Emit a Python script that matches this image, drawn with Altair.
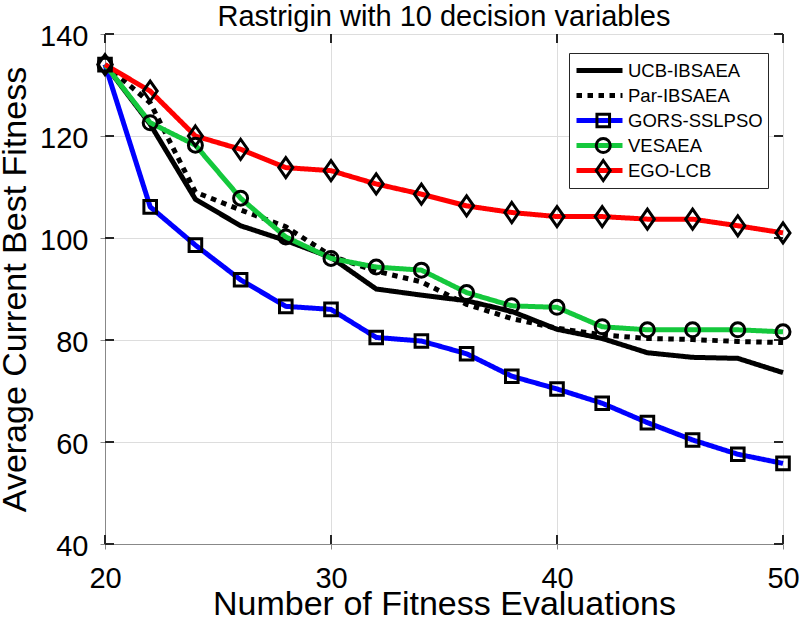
import altair as alt
import pandas as pd

# Evaluation counts on the x axis
evals = [20, 22, 24, 26, 28, 30, 32, 34, 36, 38, 40, 42, 44, 46, 48, 50]

# Average current best fitness per algorithm
ucb_ibsaea = [134, 122.3, 107.6, 102.4, 99.5, 96.2, 90.0, 88.8, 87.7, 85.6, 82.1, 80.3, 77.5, 76.6, 76.4, 73.6]
par_ibsaea = [134, 126.5, 109.0, 105.5, 102.2, 96.5, 93.5, 91.4, 87.0, 84.2, 82.3, 81.0, 80.3, 80.1, 79.7, 79.5]
gors_sslpso = [134, 106.1, 98.6, 91.8, 86.6, 86.0, 80.5, 79.8, 77.3, 72.9, 70.4, 67.6, 63.8, 60.4, 57.6, 55.8]
vesaea = [134, 122.6, 118.2, 107.8, 100.2, 96.0, 94.3, 93.7, 89.3, 86.7, 86.4, 82.6, 82.0, 82.0, 82.0, 81.6]
ego_lcb = [134, 128.8, 120.0, 117.4, 113.8, 113.2, 110.6, 108.6, 106.3, 105.0, 104.2, 104.2, 103.7, 103.7, 102.4, 101.0]

series_names = ["UCB-IBSAEA", "Par-IBSAEA", "GORS-SSLPSO", "VESAEA", "EGO-LCB"]
series_values = [ucb_ibsaea, par_ibsaea, gors_sslpso, vesaea, ego_lcb]
series_markers = ["none_a", "none_b", "square", "circle", "diamond"]

x_ticks = [20, 30, 40, 50]
y_ticks = [40, 60, 80, 100, 120, 140]

# styling
line_colors = ["#000000", "#000000", "#0000ff", "#14c83c", "#ff0000"]
line_dashes = [[1, 0], [5.5, 5.5], [1, 0], [1, 0], [1, 0]]
line_widths = [5, 5, 3.5, 3.5, 3.5]
marker_paths = ["M0,0", "M0,0",
                "M-0.9,-0.9H0.9V0.9H-0.9Z",
                "circle",
                "M0,-1.43L1,0L0,1.43L-1,0Z"]

FONT = "Liberation Sans, Helvetica, Arial, sans-serif"
AXIS_COLOR = "#262626"
W, H = 678, 510
TICK = 9

rows = []
for name, vals, mk in zip(series_names, series_values, series_markers):
    for x, v in zip(evals, vals):
        rows.append({"evals": x, "fitness": v, "method": name, "marker": mk})
df = pd.DataFrame(rows)
df_markers = df[~df["marker"].str.startswith("none")]

x_scale = alt.Scale(domain=[20, 50], nice=False, zero=False)
y_scale = alt.Scale(domain=[40, 140], nice=False, zero=False)

# legend geometry: line sample + marker overlay share one center
LEG_X, LEG_Y = 464, 19
LEG_FONT = 18.5
LINE_LEN = 46
LEG_LINE_W = 4.5
MARK_SIZE = 196
MARK_W = 3
MARK_SHIFT = 20

line_legend = alt.Legend(
    title=None, orient="none", legendX=LEG_X, legendY=LEG_Y,
    direction="vertical", symbolType="stroke", symbolSize=LINE_LEN ** 2,
    symbolStrokeWidth=LEG_LINE_W, labelFont=FONT, labelFontSize=LEG_FONT,
    labelColor="#000000", labelOffset=3, padding=5, clipHeight=25,
    rowPadding=0, strokeColor=AXIS_COLOR, fillColor="white", labelLimit=0,
)

marker_legend = alt.Legend(
    title=None, orient="none", legendX=LEG_X, legendY=LEG_Y,
    direction="vertical", symbolSize=MARK_SIZE, symbolStrokeWidth=MARK_W,
    symbolStrokeColor="#000000", symbolFillColor="transparent",
    symbolOffset=MARK_SHIFT, labelFont=FONT, labelFontSize=LEG_FONT,
    labelOpacity=0, labelOffset=3, padding=5, clipHeight=25, rowPadding=0,
    labelLimit=0,
)

x_axis = alt.Axis(values=x_ticks, title="Number of Fitness Evaluations",
                  labelFontSize=29, labelPadding=15, titleFontSize=34,
                  titleFontWeight="normal", titleY=70,
                  titleBaseline="alphabetic", labelFlush=False)
y_axis = alt.Axis(values=y_ticks, title="Average Current Best Fitness",
                  labelFontSize=29, labelPadding=12, titleFontSize=34,
                  titleFontWeight="normal", titleX=-80,
                  titleBaseline="alphabetic", labelOffset=2)

lines = alt.Chart(df).mark_line(strokeCap="butt", clip=False).encode(
    x=alt.X("evals:Q", scale=x_scale, axis=x_axis),
    y=alt.Y("fitness:Q", scale=y_scale, axis=y_axis),
    color=alt.Color("method:N", scale=alt.Scale(domain=series_names, range=line_colors),
                    legend=line_legend),
    strokeDash=alt.StrokeDash("method:N", scale=alt.Scale(domain=series_names, range=line_dashes),
                              legend=line_legend),
    strokeWidth=alt.StrokeWidth("method:N", scale=alt.Scale(domain=series_names, range=line_widths),
                                legend=None),
    detail="method:N",
)

markers = alt.Chart(df_markers).mark_point(
    filled=False, color="#000000", strokeWidth=MARK_W, size=MARK_SIZE, opacity=1, clip=False
).encode(
    x=alt.X("evals:Q", scale=x_scale),
    y=alt.Y("fitness:Q", scale=y_scale),
    shape=alt.Shape("marker:N", scale=alt.Scale(domain=series_markers, range=marker_paths),
                    legend=marker_legend),
)

# inward tick marks on all four sides of the box
xt = pd.DataFrame({"t": x_ticks})
yt = pd.DataFrame({"t": y_ticks})
tick_style = dict(color=AXIS_COLOR, strokeWidth=2)
x_ticks_bottom = alt.Chart(xt).mark_rule(**tick_style).encode(
    x=alt.X("t:Q", scale=x_scale), y=alt.value(H - TICK), y2=alt.value(H))
x_ticks_top = alt.Chart(xt).mark_rule(**tick_style).encode(
    x=alt.X("t:Q", scale=x_scale), y=alt.value(0), y2=alt.value(TICK))
y_ticks_left = alt.Chart(yt).mark_rule(**tick_style).encode(
    y=alt.Y("t:Q", scale=y_scale), x=alt.value(0), x2=alt.value(TICK))
y_ticks_right = alt.Chart(yt).mark_rule(**tick_style).encode(
    y=alt.Y("t:Q", scale=y_scale), x=alt.value(W - TICK), x2=alt.value(W))

chart = alt.layer(
    x_ticks_bottom, x_ticks_top, y_ticks_left, y_ticks_right, lines, markers
).properties(
    width=W, height=H,
    title=alt.TitleParams("Rastrigin with 10 decision variables", fontSize=29,
                          font=FONT, fontWeight="normal", color="#000000",
                          anchor="middle", baseline="alphabetic", offset=-33),
    autosize=alt.AutoSizeParams(type="none"),
    padding={"left": 105, "top": 34, "right": 20, "bottom": 90},
).configure_view(
    stroke=AXIS_COLOR, strokeWidth=2.5
).configure_axis(
    grid=False, ticks=False, tickSize=0, domain=False,
    labelFont=FONT, titleFont=FONT, labelColor=AXIS_COLOR, titleColor=AXIS_COLOR,
    titleFontWeight="normal",
).configure_legend(
    strokeWidth=2
).configure(background="white")

chart.save("out.html", embed_options={"renderer": "svg", "actions": False})
